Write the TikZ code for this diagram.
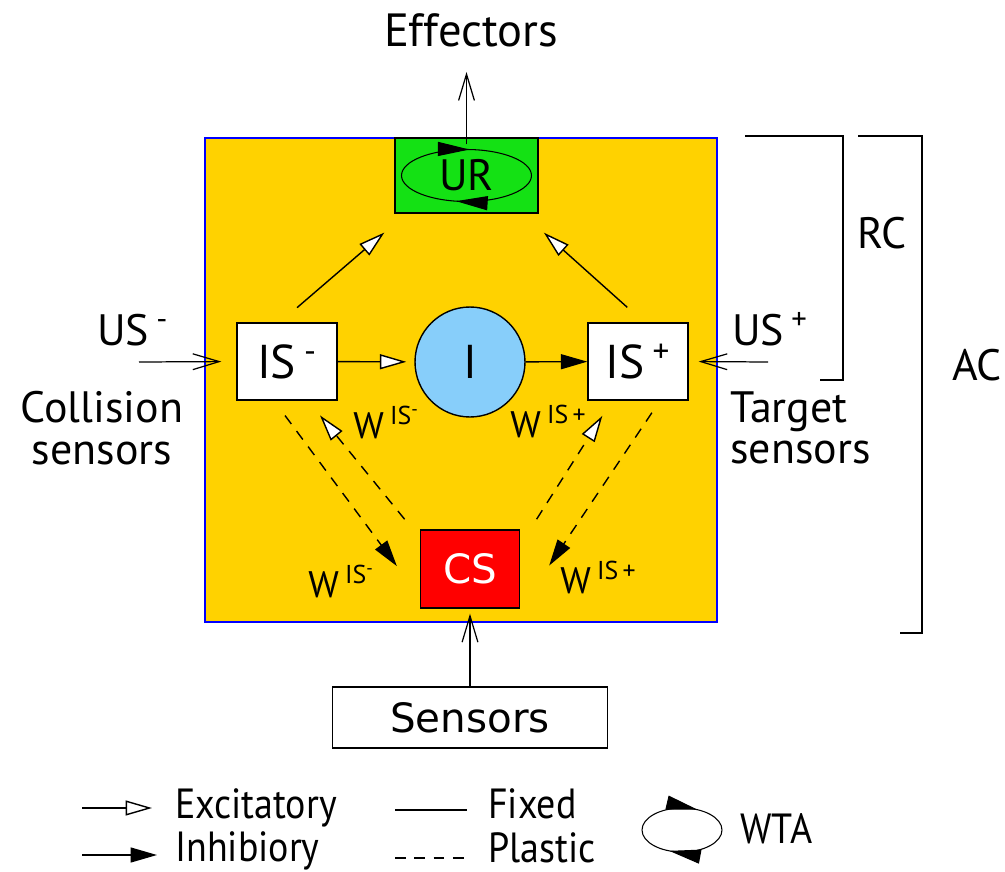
\documentclass[tikz,border=0pt]{standalone}
\usepackage{fontspec}
\setmainfont{PT Sans}
\newfontfamily\dejavu{DejaVu Sans}
\newfontfamily\legendfont[FakeStretch=0.9]{PT Sans}
\usetikzlibrary{arrows.meta,decorations.markings}
\definecolor{arenagold}{RGB}{255,210,0}
\definecolor{urgreen}{RGB}{20,225,20}
\definecolor{inhblue}{RGB}{135,206,250}
\definecolor{csred}{RGB}{255,0,0}
\definecolor{frameblue}{RGB}{0,0,255}
\begin{document}
\begin{tikzpicture}[x=0.02cm,y=-0.02cm,every node/.style={font=\fontsize{25}{23.5}\selectfont},
  unitbox/.style={draw,line width=0.8pt,inner sep=0pt},
  wlabel/.style={font=\fontsize{21}{22}\selectfont,anchor=base west,inner sep=0pt},
  legtext/.style={font=\legendfont\fontsize{24}{24}\selectfont,anchor=base west,inner sep=0pt},
  exc/.style={line width=0.8pt,-{Triangle[fill=white,length=15pt,width=8.5pt]}},
  inhib/.style={line width=0.8pt,-{Triangle[length=15pt,width=8.5pt]}},
  fixedin/.style={line width=0.7pt,-{Straight Barb[length=15pt,width=9pt]}},
  plastic/.style={dash pattern=on 6pt off 5pt},
  wtaloop/.style 2 args={line width=0.6pt,postaction={decorate},decoration={markings,
    mark=at position #1 with {\arrowreversed{Triangle[length=18pt,width=8pt]}},
    mark=at position #2 with {\arrowreversed{Triangle[length=18pt,width=8pt]}}}}]
\useasboundingbox (0,0) rectangle (1005,872);
\node[draw=frameblue,line width=1.2pt,fill=arenagold,minimum width=10.24cm,minimum height=9.68cm,inner sep=0pt] (arena) at (461,380) {};
\node[unitbox,fill=urgreen,minimum width=2.86cm,minimum height=1.5cm] (ur) at (466.5,175.5) {UR};
\draw[wtaloop={0.24}{0.715}] (ur.center) ellipse [x radius=1.3cm,y radius=0.52cm];
\node[unitbox,fill=white,minimum width=2cm,minimum height=1.54cm,font=\fontsize{27}{22}\selectfont] (isneg) at (287,361.5) {IS\,\textsuperscript{-}};
\node[unitbox,fill=white,minimum width=2cm,minimum height=1.54cm,font=\fontsize{27}{22}\selectfont] (ispos) at (638,361.5) {IS\,\textsuperscript{+}};
\node[unitbox,circle,fill=inhblue,minimum size=2.2cm,font=\fontsize{27}{22}\selectfont] (inh) at (470,362) {I};
\node[unitbox,fill=csred,text=white,minimum width=1.98cm,minimum height=1.56cm,font=\dejavu\fontsize{23}{26}\selectfont] (cs) at (470,569) {CS};
\node[unitbox,fill=white,minimum width=5.5cm,minimum height=1.22cm,font=\dejavu\fontsize{23}{26}\selectfont] (sensors) at (470,717.5) {Sensors};
\node[anchor=base,font=\fontsize{26.5}{26}\selectfont] (eff) at (471,47) {Effectors};
\node[anchor=base west] (usneg) at (91,345) {US\,\textsuperscript{-}};
\node[anchor=base west] (uspos) at (726,345) {US\,\textsuperscript{+}};
\node[align=center,inner sep=0pt] (colsens) at (102,428) {Collision\\sensors};
\node[align=left,anchor=west,inner sep=0pt] (tgtsens) at (730,428) {Target\\sensors};
\node[anchor=base west] (rc) at (851,248) {RC};
\node[anchor=base west] (ac) at (946,380) {AC};
\node[wlabel] (wnegup) at (353,438) {W\,\textsuperscript{IS\textsuperscript{-}}};
\node[wlabel] (wposup) at (510,437) {W\,\textsuperscript{IS\,+}};
\node[wlabel] (wneglow) at (308,597) {W\,\textsuperscript{IS\textsuperscript{-}}};
\node[wlabel] (wposlow) at (560,593) {W\,\textsuperscript{IS\,+}};
\coordinate (usnegin) at (139,362);
\coordinate (usposin) at (768,362);
\draw[exc,shorten <=0.45cm,shorten >=0.58cm] ([xshift=-0.14cm]isneg.north) -- ([xshift=0.24cm]ur.south west);
\draw[exc,shorten <=0.45cm,shorten >=0.57cm] ([xshift=0.12cm]ispos.north) -- ([xshift=-0.32cm]ur.south east);
\draw[exc,shorten >=0.16cm] (isneg) -- (inh);
\draw[inhib] (inh) -- (ispos);
\draw[inhib,plastic,shorten <=0.37cm,shorten >=0.77cm] ([xshift=-0.26cm]isneg.south) -- ([yshift=-0.56cm]cs.west);
\draw[exc,plastic,shorten <=0.26cm,shorten >=0.38cm] ([xshift=-0.14cm]cs.north west) -- ([xshift=0.42cm]isneg.south);
\draw[exc,plastic,shorten <=0.24cm,shorten >=0.36cm] ([xshift=0.2cm]cs.north east) -- ([xshift=-0.52cm]ispos.south);
\draw[inhib,plastic,shorten <=0.29cm,shorten >=1.04cm] ([xshift=0.44cm]ispos.south) -- (cs.south east);
\draw[fixedin,shorten >=0.5cm] ([yshift=-0.14cm]ur.north) -- (ur.north |- eff.base);
\draw[fixedin,shorten >=0.1cm] (sensors) -- (cs);
\draw[fixedin,shorten >=0.3cm] (usnegin) -- (isneg.west);
\draw[fixedin,shorten >=0.2cm] (usposin) -- (ispos.east);
\draw[line width=1.2pt] (745,136) -- (843,136) -- (843,380) -- (820,380);
\draw[line width=1.2pt] (858,136) -- (922,136) -- (922,633) -- (900,633);
\draw[exc] (82,808) -- (152,808);
\node[legtext] (lexc) at (175,818) {Excitatory};
\draw[inhib] (82,855) -- (157,855);
\node[legtext] (linh) at (175,861) {Inhibiory};
\draw[line width=0.7pt] (395,810) -- (467,810);
\node[legtext] (lfix) at (488,818) {Fixed};
\draw[line width=0.7pt,plastic] (395,858) -- (470,858);
\node[legtext] (lpla) at (488,862) {Plastic};
\draw[wtaloop={0.17}{0.685}] (682,830) ellipse [x radius=0.8cm,y radius=0.44cm];
\node[legtext] (lwta) at (740,843) {WTA};
\end{tikzpicture}
\end{document}
